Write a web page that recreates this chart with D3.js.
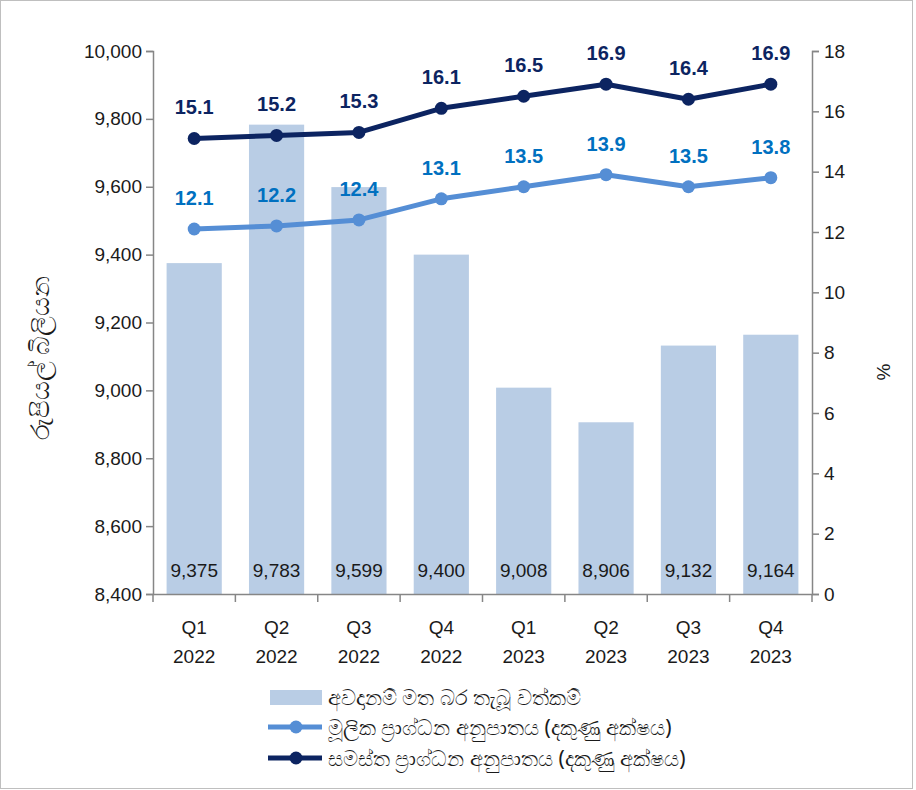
<!DOCTYPE html>
<html><head><meta charset="utf-8">
<script src="https://cdn.jsdelivr.net/npm/d3@7"></script>
<style>body{margin:0;background:#fff}</style>
</head><body>
<script>
const quarters = ["Q1","Q2","Q3","Q4","Q1","Q2","Q3","Q4"];
const years = ["2022","2022","2022","2022","2023","2023","2023","2023"];
const deposits = [9375,9783,9599,9400,9008,8906,9132,9164];
const coreRatio = [12.1,12.2,12.4,13.1,13.5,13.9,13.5,13.8];
const totalRatio = [15.1,15.2,15.3,16.1,16.5,16.9,16.4,16.9];
const leftTicks = [8400,8600,8800,9000,9200,9400,9600,9800,10000];
const rightTicks = [0,2,4,6,8,10,12,14,16,18];
const legendLabels = ["අවදානම් මත බර තැබූ වත්කම්","මූලික ප්‍රාග්ධන අනුපාතය (දකුණු අක්ෂය)","සමස්ත ප්‍රාග්ධන අනුපාතය (දකුණු අක්ෂය)"];
const yTitle = "රුපියල් බිලියන";

const W=916,H=790;
const font = "'Liberation Sans Narrow','Liberation Sans','Noto Sans',sans-serif";
const svg = d3.select("body").append("svg").attr("width",W).attr("height",H).style("font-family",font);
svg.append("rect").attr("x",0.5).attr("y",0.5).attr("width",912).attr("height",788).attr("fill","#fff").attr("stroke","#bfbfbf");

const L=153,R=812,T=51,B=594;
const idx = d3.range(quarters.length);
const x = d3.scaleBand().domain(idx).range([L,R]).paddingInner(0.33).paddingOuter(0.165);
const xb = d3.scaleBand().domain(idx).range([L,R]);
const yL = d3.scaleLinear().domain([8400,10000]).range([B,T]);
const yR = d3.scaleLinear().domain([0,18]).range([B,T]);
const axisCol="#868686";

// bars
svg.selectAll(".bar").data(deposits).join("rect")
  .attr("x",(d,i)=>x(i)).attr("width",x.bandwidth())
  .attr("y",d=>yL(d)).attr("height",d=>B-yL(d)).attr("fill","#b9cde5");
svg.selectAll(".blab").data(deposits).join("text")
  .attr("x",(d,i)=>xb(i)+xb.bandwidth()/2).attr("y",577).attr("text-anchor","middle")
  .attr("font-size",19).attr("fill","#1a1a1a").text(d=>d3.format(",")(d));

// axes
const gl = svg.append("g").attr("transform",`translate(${L},0)`)
  .call(d3.axisLeft(yL).tickValues(leftTicks).tickFormat(d3.format(",")).tickSize(7).tickPadding(4));
const gr = svg.append("g").attr("transform",`translate(${R},0)`)
  .call(d3.axisRight(yR).tickValues(rightTicks).tickSize(7).tickPadding(5));
const gx = svg.append("g").attr("transform",`translate(0,${B})`)
  .call(d3.axisBottom(xb).tickValues([]).tickSize(0));
[gl,gr,gx].forEach(g=>{
  g.selectAll("path").attr("stroke",axisCol).attr("stroke-width",1.5);
  g.selectAll("line").attr("stroke",axisCol).attr("stroke-width",1.5);
  g.selectAll("text").attr("font-size",19).attr("fill","#1a1a1a").style("font-family",font);
});
// x boundary ticks
svg.selectAll(".xt").data(d3.range(quarters.length+1)).join("line")
  .attr("x1",i=>L+i*xb.step()).attr("x2",i=>L+i*xb.step())
  .attr("y1",B).attr("y2",B+8).attr("stroke",axisCol).attr("stroke-width",1.5);
svg.selectAll(".xq").data(quarters).join("text")
  .attr("x",(d,i)=>xb(i)+xb.bandwidth()/2).attr("y",634).attr("text-anchor","middle")
  .attr("font-size",19).attr("fill","#1a1a1a").text(d=>d);
svg.selectAll(".xy").data(years).join("text")
  .attr("x",(d,i)=>xb(i)+xb.bandwidth()/2).attr("y",663).attr("text-anchor","middle")
  .attr("font-size",19).attr("fill","#1a1a1a").text(d=>d);

// lines
const cx = i=>xb(i)+xb.bandwidth()/2;
function drawLine(vals,col,labCol){
  const line = d3.line().x((d,i)=>cx(i)).y(d=>yR(d));
  svg.append("path").datum(vals).attr("d",line).attr("fill","none").attr("stroke",col).attr("stroke-width",5).attr("stroke-linejoin","round");
  svg.append("g").selectAll("circle").data(vals).join("circle").attr("cx",(d,i)=>cx(i)).attr("cy",d=>yR(d)).attr("r",6.5).attr("fill",col);
  svg.append("g").selectAll("text").data(vals).join("text").attr("x",(d,i)=>cx(i)).attr("y",d=>yR(d)-24)
    .attr("text-anchor","middle").attr("font-size",20).attr("font-weight","bold").attr("fill",labCol).text(d=>d.toFixed(1));
}
drawLine(coreRatio,"#558ed5","#0070c0");
drawLine(totalRatio,"#0c2461","#0c2461");

// axis titles
svg.append("text").attr("transform","translate(49,358) rotate(-90)").attr("text-anchor","middle")
  .attr("font-size",26).attr("fill","#1a1a1a").style("font-family","'Noto Sans',sans-serif").text(yTitle);
svg.append("text").attr("transform","translate(890,372) rotate(-90)").attr("text-anchor","middle")
  .attr("font-size",19).attr("fill","#1a1a1a").text("%");

// legend
const lg = svg.append("g");
lg.append("rect").attr("x",270).attr("y",690).attr("width",52).attr("height",15).attr("fill","#b9cde5");
[["#558ed5",727],["#0c2461",758]].forEach(([c,y])=>{
  lg.append("line").attr("x1",268).attr("x2",322).attr("y1",y).attr("y2",y).attr("stroke",c).attr("stroke-width",5);
  lg.append("circle").attr("cx",296).attr("cy",y).attr("r",6.5).attr("fill",c);
});
lg.selectAll("text").data(legendLabels).join("text").attr("x",328).attr("y",(d,i)=>[705,735,766][i])
  .attr("font-size",21).attr("fill","#1a1a1a").style("font-family","'Noto Sans',sans-serif").text(d=>d);
</script>
</body></html>
